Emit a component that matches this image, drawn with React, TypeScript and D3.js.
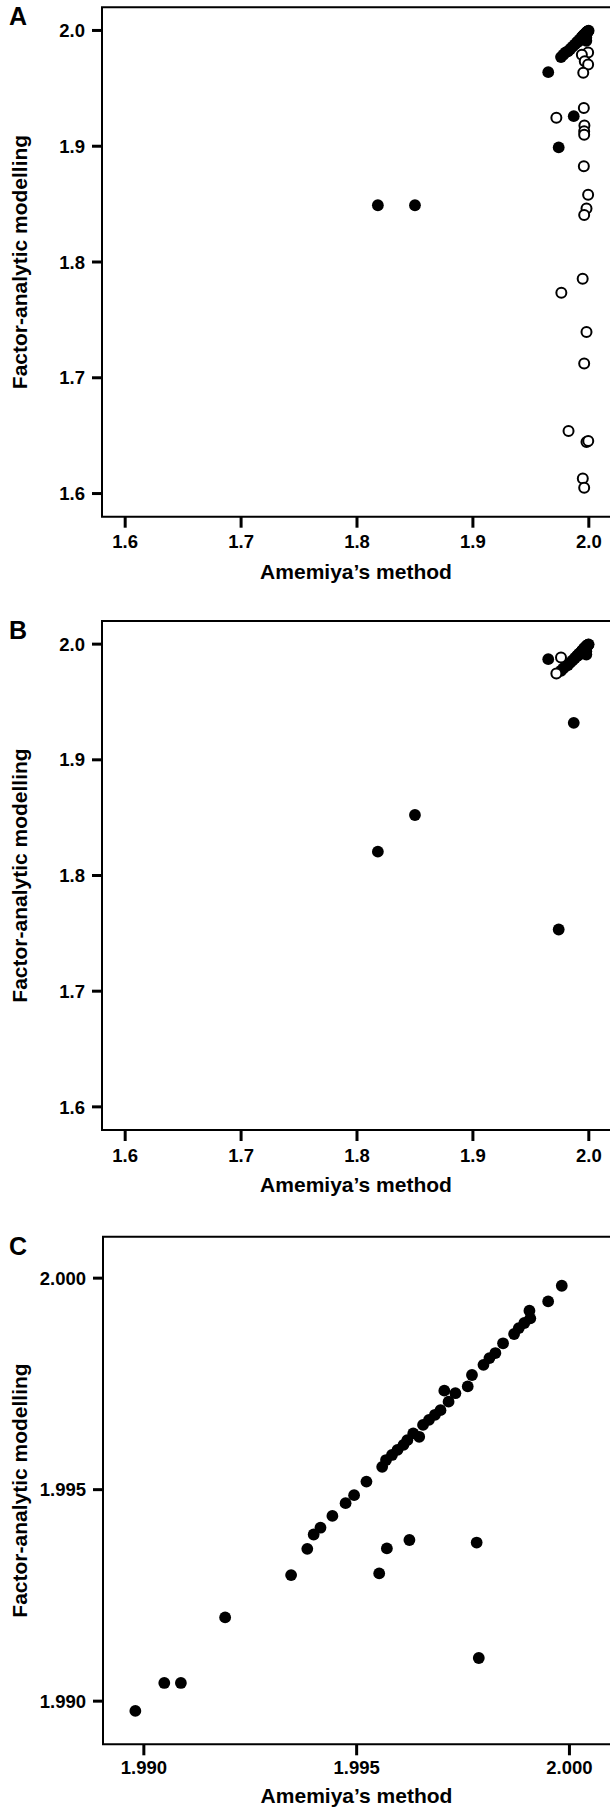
import * as d3 from "d3";
import React from "react";

// values (x = Amemiya's method, y = factor-analytic modelling)
const ticksAB = [1.6, 1.7, 1.8, 1.9, 2.0];
const ticksC = [1.99, 1.995, 2.0];

const aFilledOutliers = [
  [1.818, 1.849], [1.85, 1.849], [1.965, 1.964], [1.974, 1.899], [1.987, 1.926],
];
const aOpen = [
  [1.9994, 1.981], [1.994, 1.979], [1.9965, 1.9735], [1.9994, 1.9706], [1.9952, 1.9635],
  [1.9957, 1.933], [1.972, 1.9246], [1.9962, 1.918], [1.996, 1.913], [1.996, 1.91],
  [1.9957, 1.8828], [1.9994, 1.858], [1.998, 1.8463], [1.996, 1.8405], [1.9947, 1.7856],
  [1.9763, 1.7735], [1.998, 1.7395], [1.996, 1.7124], [1.9825, 1.654], [1.998, 1.6445],
  [1.9995, 1.6453], [1.9948, 1.6129], [1.996, 1.6051],
];
const bFilledOutliers = [
  [1.818, 1.8206], [1.85, 1.8523], [1.965, 1.987], [1.987, 1.932], [1.974, 1.7533],
];
const bOpen = [
  [1.976, 1.9885], [1.972, 1.9747],
];
// diagonal band just below the zoomed window of panel C
const bandPoints = [
  [1.976, 1.977], [1.978, 1.979], [1.98, 1.981], [1.982, 1.982],
  [1.984, 1.984], [1.986, 1.986], [1.988, 1.988],
];
// panel C: zoom on the upper-right corner
const zoomPoints = [
  [1.9898, 1.98977], [1.99048, 1.99043], [1.99087, 1.99043], [1.99191, 1.99198],
  [1.99346, 1.99298], [1.99384, 1.9936], [1.99399, 1.99394], [1.99415, 1.9941],
  [1.99443, 1.99438], [1.99474, 1.99468], [1.99494, 1.99487], [1.99523, 1.99519],
  [1.99553, 1.99302], [1.99571, 1.99361], [1.99624, 1.99381], [1.99782, 1.99375],
  [1.99787, 1.99102], [1.9956, 1.99554], [1.99569, 1.9957], [1.99583, 1.99582],
  [1.99596, 1.99594], [1.9961, 1.99606], [1.99619, 1.99617], [1.99633, 1.99633],
  [1.99647, 1.99625], [1.99656, 1.99653], [1.9967, 1.99665], [1.99684, 1.99677],
  [1.99697, 1.99688], [1.99716, 1.99708], [1.99706, 1.99734], [1.99732, 1.99728],
  [1.99761, 1.99744], [1.99771, 1.99771], [1.99798, 1.99795], [1.99812, 1.99811],
  [1.99826, 1.99823], [1.99844, 1.99846], [1.9987, 1.99868], [1.99881, 1.99882],
  [1.99894, 1.99894], [1.99908, 1.99905], [1.99906, 1.99923], [1.9995, 1.99945],
  [1.99982, 1.99982],
];

const FONT = "'Liberation Sans', Arial, Helvetica, sans-serif";

const panels = [
  {
    label: "A", top: 7.3, bottom: 516.7, left: 102, xDomain: [1.58, 2.02], yDomain: [1.58, 2.02],
    ticks: ticksAB, fmt: d3.format(".1f"), filled: [...aFilledOutliers, ...bandPoints, ...zoomPoints],
    open: aOpen, tickLabelDy: 31.5, titleDy: 62,
  },
  {
    label: "B", top: 621, bottom: 1130, left: 102, xDomain: [1.58, 2.02], yDomain: [1.58, 2.02],
    ticks: ticksAB, fmt: d3.format(".1f"), filled: [...bFilledOutliers, ...bandPoints, ...zoomPoints],
    open: bOpen, tickLabelDy: 32, titleDy: 62,
  },
  {
    label: "C", top: 1236.7, bottom: 1744.3, left: 103, xDomain: [1.98904, 2.001], yDomain: [1.98898, 2.00098],
    ticks: ticksC, fmt: d3.format(".3f"), filled: zoomPoints,
    open: [], tickLabelDy: 29.5, titleDy: 59,
  },
];

function Panel({ p }) {
  const right = 612;
  const x = d3.scaleLinear().domain(p.xDomain).range([p.left, right]);
  const y = d3.scaleLinear().domain(p.yDomain).range([p.bottom, p.top]);
  const cx = (p.left + 610) / 2;
  const cy = (p.top + p.bottom) / 2;
  return (
    <g>
      <text x={9} y={p.top + 18} fontSize={25} fontWeight="bold" fontFamily={FONT}>{p.label}</text>
      {/* frame, right side runs off the picture */}
      <path d={`M${right},${p.top}H${p.left}V${p.bottom}H${right}`} fill="none" stroke="#000" strokeWidth={2} />
      {p.ticks.map((t) => (
        <g key={"y" + t}>
          <line x1={p.left - 10} x2={p.left} y1={y(t)} y2={y(t)} stroke="#000" strokeWidth={3} />
          <text x={p.left - 17} y={y(t)} dy="0.36em" textAnchor="end" fontSize={18.5} fontWeight="bold" fontFamily={FONT}>
            {p.fmt(t)}
          </text>
        </g>
      ))}
      {p.ticks.map((t) => (
        <g key={"x" + t}>
          <line x1={x(t)} x2={x(t)} y1={p.bottom} y2={p.bottom + 11} stroke="#000" strokeWidth={3} />
          <text x={x(t)} y={p.bottom + p.tickLabelDy} textAnchor="middle" fontSize={18.5} fontWeight="bold" fontFamily={FONT}>
            {p.fmt(t)}
          </text>
        </g>
      ))}
      <text x={cx} y={p.bottom + p.titleDy} textAnchor="middle" fontSize={21} fontWeight="bold" fontFamily={FONT}>
        Amemiya’s method
      </text>
      <text transform={`translate(27,${cy}) rotate(-90)`} textAnchor="middle" fontSize={21} fontWeight="bold" fontFamily={FONT}>
        Factor-analytic modelling
      </text>
      {p.filled.filter((d) => d[0] >= p.xDomain[0] && d[1] >= p.yDomain[0]).map((d, i) => (
        <circle key={"f" + i} cx={x(d[0])} cy={y(d[1])} r={5.9} fill="#000" />
      ))}
      {p.open.map((d, i) => (
        <circle key={"o" + i} cx={x(d[0])} cy={y(d[1])} r={5} fill="#fff" stroke="#000" strokeWidth={2} />
      ))}
    </g>
  );
}

export default function App() {
  return (
    <svg width={610} height={1807} style={{ position: "absolute", left: 0, top: 0, background: "#fff" }}>
      <rect width={610} height={1807} fill="#fff" />
      {panels.map((p) => (
        <Panel key={p.label} p={p} />
      ))}
    </svg>
  );
}
